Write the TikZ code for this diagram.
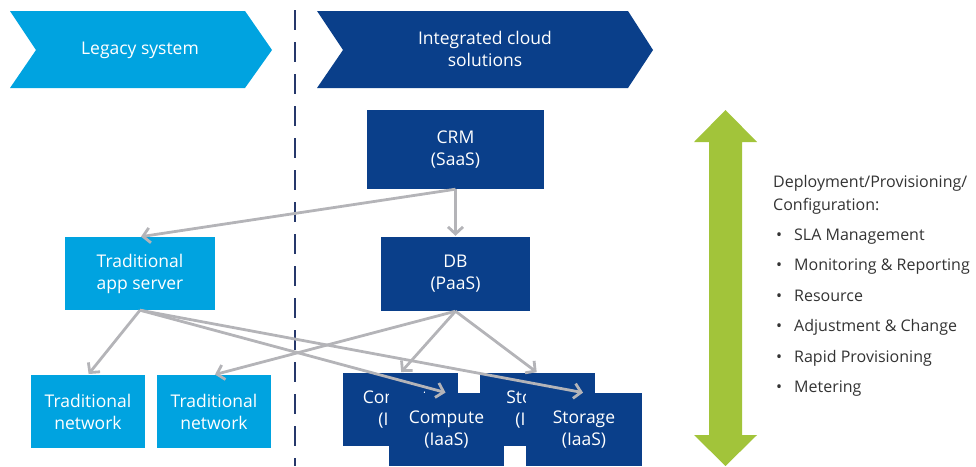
\documentclass[tikz,border=0pt]{standalone}
\usepackage{fontspec}
\setmainfont{Open Sans}
\usetikzlibrary{arrows.meta}
\definecolor{lightblue}{HTML}{00A3E0}
\definecolor{navy}{HTML}{0A3F8A}
\definecolor{dashnavy}{HTML}{26386B}
\definecolor{conn}{HTML}{B4B4B8}
\definecolor{leaf}{HTML}{A2C43A}
\definecolor{bodytext}{HTML}{333333}
\tikzset{
  boxfont/.style={font=\fontsize{17.5}{22}\selectfont},
  legacybox/.style={fill=lightblue, text=white, align=center, inner sep=0pt, boxfont},
  cloudbox/.style={fill=navy, text=white, align=center, inner sep=0pt, boxfont},
  link/.style={draw=conn, line width=2.8pt,
    -{Straight Barb[length=7pt,width=15pt,line width=2.8pt]}, shorten >=1pt},
  listtext/.style={text=bodytext, anchor=base west, inner sep=0pt,
    font=\fontsize{16}{19}\selectfont},
}
\begin{document}
\begin{tikzpicture}[x=1pt,y=-1pt]
\useasboundingbox (0,0) rectangle (976,466);

% phase chevrons
\fill[lightblue] (10,11) -- (245,11) -- (272,50) -- (245,88) -- (10,88) -- (36,50) -- cycle;
\node[text=white, boxfont] (legacy) at (140,50) {Legacy system};
\fill[navy] (317,11) -- (628,11) -- (653,50) -- (628,88) -- (317,88) -- (343,50) -- cycle;
\node[text=white, align=center, boxfont] (cloud) at (485,49) {Integrated cloud\\solutions};

% separator between the two worlds
\draw[dashnavy, line width=2.2pt, dash pattern=on 20pt off 12pt] (295,10) -- (295,466);

% legacy stack
\node[legacybox, minimum width=150pt, minimum height=73pt] (app) at (140,273.5) {Traditional\\app server};
\node[legacybox, minimum width=114pt, minimum height=73pt] (net1) at (88,411.5) {Traditional\\network};
\node[legacybox, minimum width=114pt, minimum height=73pt] (net2) at (214,411.5) {Traditional\\network};

% cloud stack
\node[cloudbox, minimum width=177pt, minimum height=79pt] (crm) at (455.5,149.5) {CRM\\(SaaS)};
\node[cloudbox, minimum width=149pt, minimum height=74pt] (db) at (455.5,274) {DB\\(PaaS)};
\node[cloudbox, minimum width=115pt, minimum height=73pt] (bcomp) at (400.5,409.5) {Compute\\(IaaS)};
\node[cloudbox, minimum width=115pt, minimum height=73pt] (bstor) at (537.5,409.5) {Storage\\(IaaS)};
\node[cloudbox, minimum width=115pt, minimum height=73pt] (fcomp) at (446.5,429.5) {Compute\\(IaaS)};
\node[cloudbox, minimum width=116pt, minimum height=73pt] (fstor) at (584,429.5) {Storage\\(IaaS)};

% dependencies
\draw[link] (crm.south) -- (app.north);
\draw[link] (crm.south) -- (db.north);
\draw[link] (app.south) -- (net1.north);
\draw[link] (app.south) -- (fcomp.north);
\draw[link] (app.south) -- (fstor.north);
\draw[link] (db.south) -- (net2.north);
\draw[link] (db.south) -- (bcomp.north);
\draw[link] (db.south) -- (bstor.north);

% lifecycle arrow
\fill[leaf] (725.5,110) -- (757,142) -- (742,142) -- (742,435) -- (757,435) -- (725.5,466)
  -- (694,435) -- (709,435) -- (709,142) -- (694,142) -- cycle;

% lifecycle activities
\node[listtext] (head1) at (773,187) {Deployment/Provisioning/};
\node[listtext] (head2) at (773,210) {Configuration:};
\foreach \y/\t [count=\i] in {240/SLA Management, 270/Monitoring \& Reporting, 301/Resource,
    331/Adjustment \& Change, 362/Rapid Provisioning, 392/Metering} {
  \node[listtext] (bul\i) at (776,\y) {\textbullet};
  \node[listtext] (item\i) at (794,\y) {\t};
}
\end{tikzpicture}
\end{document}
